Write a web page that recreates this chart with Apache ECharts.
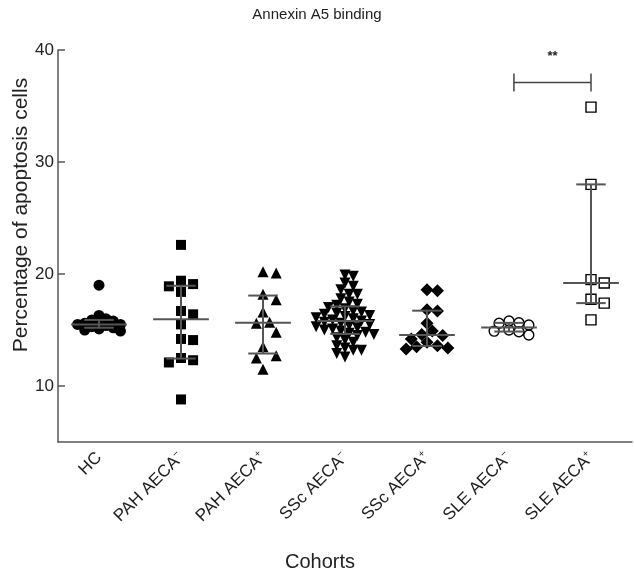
<!DOCTYPE html>
<html><head><meta charset="utf-8">
<script src="https://cdn.jsdelivr.net/npm/echarts@6/dist/echarts.min.js"></script>
</head><body style="margin:0;background:#fff">
<div id="c" style="width:634px;height:576px"></div>
<script>
// ---- data ----
const categories = ['HC', 'PAH AECA-', 'PAH AECA+', 'SSc AECA-', 'SSc AECA+', 'SLE AECA-', 'SLE AECA+'];
const hc      = [19.0, 16.3, 16.0, 15.9, 15.8, 15.7, 15.6, 15.5, 15.5, 15.4, 15.3, 15.2, 15.1, 15.0, 14.9];
const pahNeg  = [22.6, 19.4, 19.1, 18.9, 18.4, 16.7, 16.4, 15.5, 14.2, 14.1, 12.5, 12.3, 12.1, 8.8];
const pahPos  = [20.2, 20.1, 18.2, 17.7, 16.6, 15.7, 15.6, 14.8, 13.5, 12.7, 12.5, 11.5];
const sscNeg  = [19.9, 19.8, 19.2, 18.9, 18.6, 18.2, 18.2, 17.8, 17.5, 17.3, 17.2, 17.0, 16.9, 16.7, 16.6,
                 16.5, 16.4, 16.3, 16.2, 16.1, 16.0, 15.9, 15.8, 15.7, 15.6, 15.5, 15.4, 15.3, 15.2, 15.1,
                 15.0, 14.9, 14.8, 14.7, 14.6, 14.5, 14.3, 14.1, 13.9, 13.6, 13.4, 13.2, 13.2, 12.9, 12.6];
const sscPos  = [18.6, 18.5, 16.8, 16.7, 15.6, 14.9, 14.6, 14.5, 14.2, 13.9, 13.6, 13.5, 13.4, 13.3];
const sleNeg  = [15.8, 15.65, 15.6, 15.45, 15.0, 14.9, 14.85, 14.55];
const slePos  = [34.9, 28.0, 19.5, 19.2, 17.75, 17.4, 15.9];
const yTicks  = [10, 20, 30, 40];
const sigPair = [5, 6];
const sigLevel = 37.1;
const sigText = '**';

const groups = [hc, pahNeg, pahPos, sscNeg, sscPos, sleNeg, slePos];

// ---- layout / style ----
const GRID = {left: 58, right: 2, top: 50, bottom: 134};
const pxPerCat = (634 - GRID.left - GRID.right) / 7;
const pxPerUnit = (576 - GRID.top - GRID.bottom) / 35;
const styles = [
  {symbol: 'circle', size: 11, fill: '#000', diam: 6.5},
  {symbol: 'rect', size: 10, fill: '#000', diam: 11},
  {symbol: 'triangle', size: 11, fill: '#000', diam: 12},
  {symbol: 'triangle', size: 11, fill: '#000', diam: 7.5, rotate: 180},
  {symbol: 'diamond', size: 13, fill: '#000', diam: 9.5},
  {symbol: 'circle', size: 10, fill: 'rgba(255,255,255,0)', diam: 9, stroke: true},
  {symbol: 'rect', size: 10, fill: 'rgba(255,255,255,0)', diam: 12, stroke: true}
];

// deterministic beeswarm (no randomness)
function swarm(values, ci, diam) {
  const order = values.map((v, i) => ({v, i})).sort((a, b) => b.v - a.v);
  const placed = [];
  const out = [];
  const step = diam * 0.55;
  for (const p of order) {
    const yp = p.v * pxPerUnit;
    let chosen = 0;
    for (let k = 0; k < 60; k++) {
      const cand = k === 0 ? 0 : (k % 2 ? 1 : -1) * Math.ceil(k / 2) * step;
      const ok = placed.every(q => Math.hypot(q.x - cand, q.y - yp) >= diam * 0.98);
      if (ok) { chosen = cand; break; }
    }
    placed.push({x: chosen, y: yp});
    out.push([ci + chosen / pxPerCat, p.v]);
  }
  return out;
}

function quart(arr, p) { // (n+1)p method
  const s = arr.slice().sort((a, b) => a - b);
  const n = s.length;
  let pos = (n + 1) * p;
  if (pos < 1) pos = 1; if (pos > n) pos = n;
  const lo = Math.floor(pos), hi = Math.ceil(pos);
  return s[lo - 1] + (pos - lo) * (s[hi - 1] - s[lo - 1]);
}
const stats = groups.map((g, i) => [i, quart(g, 0.5), quart(g, 0.25), quart(g, 0.75)]);

const scatterSeries = groups.map((g, i) => {
  const st = styles[i];
  return {
    type: 'scatter', xAxisIndex: 1, yAxisIndex: 0, z: 2,
    symbol: st.symbol, symbolSize: st.size, symbolRotate: st.rotate || 0,
    itemStyle: {color: st.fill, borderColor: '#000', borderWidth: st.stroke ? 1.4 : 0, opacity: 1},
    data: swarm(g, i, st.diam), silent: true
  };
});

const chart = echarts.init(document.getElementById('c'), null, {renderer: 'canvas'});
const FONT = 'Liberation Sans, Arial, Helvetica, sans-serif';
chart.setOption({
  backgroundColor: '#fff',
  animation: false,
  textStyle: {fontFamily: FONT},
  title: {text: 'Annexin A5 binding', left: 'center', top: 2,
    textStyle: {fontSize: 15, fontWeight: 'normal', color: '#222', fontFamily: FONT}},
  grid: Object.assign({outerBoundsMode: 'none', containLabel: false}, GRID),
  xAxis: [{
    type: 'category', data: categories, boundaryGap: true,
    axisLine: {lineStyle: {color: '#555', width: 1.5}},
    axisTick: {alignWithLabel: true, inside: true, length: 9, lineStyle: {color: '#555', width: 1.5}},
    axisLabel: {rotate: 45, fontSize: 17, color: '#222', margin: 13, interval: 0,
      formatter: v => {
        const m = v.match(/^(.*)([+-])$/);
        if (!m) return '{a|' + v + '}';
        return '{a|' + m[1] + '}{s|' + (m[2] === '-' ? '−' : '+') + '}';
      },
      rich: {a: {fontSize: 17, color: '#222', lineHeight: 19, fontFamily: FONT},
             s: {fontSize: 10, color: '#222', lineHeight: 10, verticalAlign: 'top', fontFamily: FONT}}},
    name: 'Cohorts', nameLocation: 'middle', nameGap: 110, nameMoveOverlap: false,
    nameTextStyle: {fontSize: 20, color: '#222', fontFamily: FONT, padding: [0, 50, 0, 0]},
    splitLine: {show: false}
  }, {
    type: 'value', min: -0.5, max: 6.5, show: false, splitLine: {show: false}
  }],
  yAxis: {
    type: 'value', min: 5, max: 40,
    axisLine: {show: true, onZero: false, lineStyle: {color: '#555', width: 1.5}},
    axisTick: {show: true, inside: true, length: 7, customValues: yTicks, lineStyle: {color: '#555', width: 1.5}},
    axisLabel: {fontSize: 17, color: '#222', margin: 4, customValues: yTicks},
    splitLine: {show: false},
    name: 'Percentage of apoptosis cells', nameLocation: 'middle', nameGap: 26, nameMoveOverlap: false,
    nameTextStyle: {fontSize: 21, color: '#222', fontFamily: FONT, padding: [0, 0, 0, 62]}
  },
  series: [
    ...scatterSeries,
    {
      type: 'custom', xAxisIndex: 1, yAxisIndex: 0, z: 3, silent: true,
      data: stats,
      renderItem: (params, api) => {
        const i = api.value(0), med = api.value(1), q1 = api.value(2), q3 = api.value(3);
        const c = (x, y) => api.coord([x, y]);
        const st = {stroke: '#555', lineWidth: 2};
        const ln = (a, b) => ({type: 'line', shape: {x1: a[0], y1: a[1], x2: b[0], y2: b[1]}, style: st});
        return {type: 'group', children: [
          ln(c(i - 0.34, med), c(i + 0.34, med)),
          ln(c(i, q1), c(i, q3)),
          ln(c(i - 0.18, q1), c(i + 0.18, q1)),
          ln(c(i - 0.18, q3), c(i + 0.18, q3))
        ]};
      }
    },
    {
      type: 'custom', xAxisIndex: 1, yAxisIndex: 0, z: 3, silent: true,
      data: [[sigPair[0], sigPair[1], sigLevel]],
      renderItem: (params, api) => {
        const a = api.coord([api.value(0) + 0.06, api.value(2)]);
        const b = api.coord([api.value(1), api.value(2)]);
        const st = {stroke: '#444', lineWidth: 1.5};
        return {type: 'group', children: [
          {type: 'line', shape: {x1: a[0], y1: a[1], x2: b[0], y2: b[1]}, style: st},
          {type: 'line', shape: {x1: a[0], y1: a[1] - 9, x2: a[0], y2: a[1] + 9}, style: st},
          {type: 'line', shape: {x1: b[0], y1: b[1] - 9, x2: b[0], y2: b[1] + 9}, style: st},
          {type: 'text', style: {text: sigText, x: (a[0] + b[0]) / 2, y: a[1] - 26,
            fill: '#222', font: 'bold 13px ' + FONT, textAlign: 'center', textVerticalAlign: 'middle'}}
        ]};
      }
    }
  ]
});
</script>
</body></html>
